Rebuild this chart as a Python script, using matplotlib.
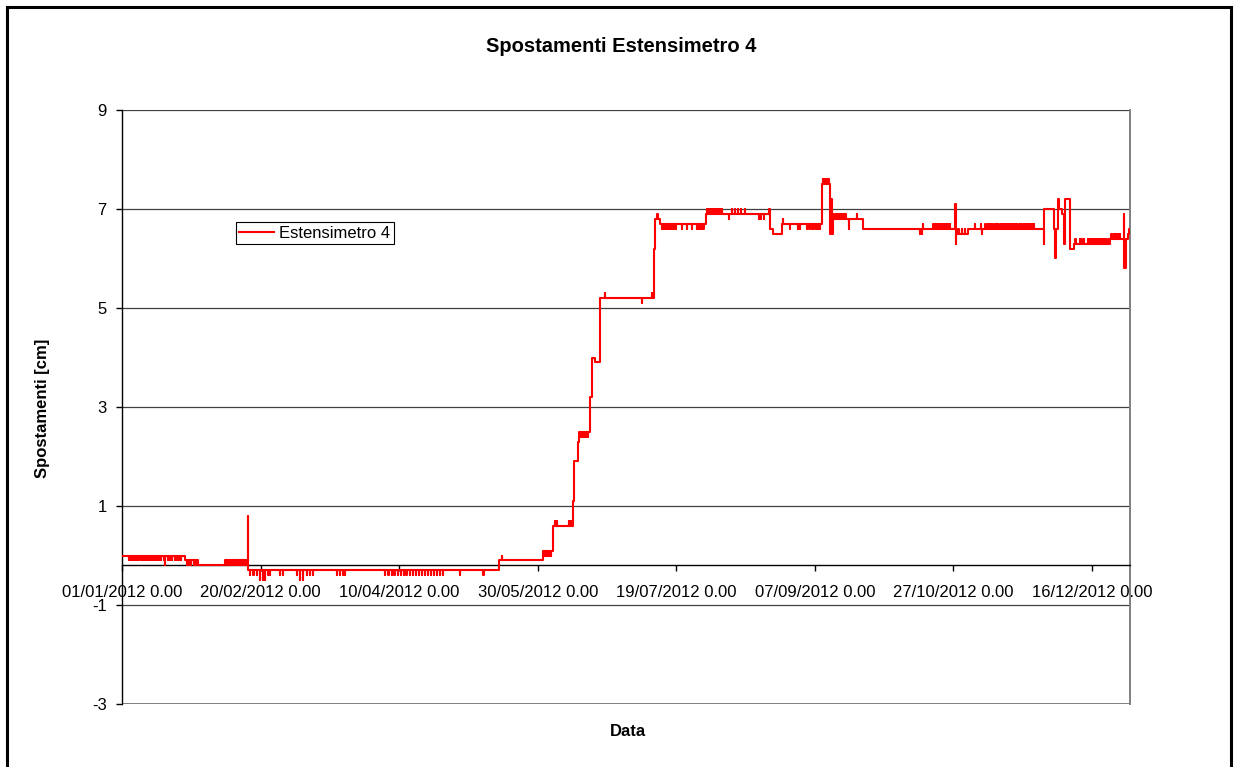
import numpy as np
import pandas as pd
import matplotlib
matplotlib.use('Agg')
import matplotlib.pyplot as plt
import matplotlib.dates as mdates
from matplotlib.patches import Rectangle
from matplotlib.ticker import FuncFormatter

plt.rcParams['font.family'] = ['Liberation Sans', 'Arial', 'DejaVu Sans']
plt.rcParams['font.size'] = 12

start = pd.Timestamp('2012-01-01')
end_day = 363.7

# base level of the reading (days from 01/01/2012, cm), held until next change
base_day = [0.0, 22.7, 27.4, 37.2, 45.5, 45.6, 136.0, 151.9, 155.5, 162.7, 163.1,
            164.5, 164.9, 168.9, 169.6, 170.8, 172.5, 192.0, 192.3, 194.1, 210.7,
            233.8, 234.8, 238.1, 252.6, 255.5, 255.8, 256.1, 256.4, 256.8, 267.4,
            300.6, 300.8, 301.0, 305.3, 332.5, 332.8, 336.3, 336.6, 336.9, 337.8,
            338.2, 339.0, 339.9, 340.3, 342.2, 343.5, 356.5, 361.4, 361.6, 362.4,
            362.8, 363.2]
base_val = [0.0, -0.1, -0.2, -0.1, 0.8, -0.3, -0.1, 0.1, 0.6, 1.1, 1.9,
            2.3, 2.5, 3.2, 4.0, 3.9, 5.2, 6.2, 6.8, 6.7, 6.9,
            6.6, 6.5, 6.7, 7.5, 6.5, 7.2, 6.5, 6.9, 6.8, 6.6,
            7.1, 6.3, 6.5, 6.6, 6.3, 7.0, 6.6, 6.0, 6.6, 7.2,
            7.0, 6.9, 6.3, 7.2, 6.2, 6.3, 6.4, 6.9, 5.8, 6.4,
            6.5, 6.6]

# single readings that jump off the base level
blips_m01 = [2.5, 3.3, 4.0, 4.8, 5.5, 6.1, 7.0, 7.6, 8.3, 9.0, 9.8, 10.4, 11.2, 12.0,
             12.6, 13.4, 14.1, 15.0, 16.5, 17.4, 18.1, 19.0, 19.8, 20.5, 21.3]
blips_m02 = [15.5, 23.3, 24.2, 25.0, 25.8, 26.7, 38.0, 38.8, 39.5, 40.3, 41.0, 41.8,
             42.5, 43.3, 44.0, 44.8]
blips_m04 = [46.2, 47.4, 48.6, 52.8, 53.4, 57.0, 58.0, 63.0, 66.6, 67.8, 69.0, 77.5,
             78.7, 79.9, 80.5, 94.9, 96.1, 97.3, 98.3, 99.5, 100.5, 101.6, 102.6,
             103.8, 104.9, 106.0, 107.0, 108.2, 109.3, 110.4, 111.5, 112.6, 113.7,
             114.8, 115.9, 122.0, 130.4]
blips_m05 = [49.8, 50.8, 51.7, 64.2, 65.4]
blips_00 = [137.1, 152.5, 153.2, 154.0, 154.7]
blips_07 = [156.2, 156.9, 161.3, 162.0]
blips_24 = [165.5, 166.2, 166.9, 167.5, 168.2]
blips_51 = [187.6]
blips_53 = [174.3, 191.3]
blips_64 = [344.0, 345.5, 346.2, 347.0, 348.5, 349.2, 350.0, 350.7, 351.4, 352.2,
            352.9, 353.6, 354.4, 355.1, 355.9]
blips_65 = [288.0, 288.5, 310.4, 357.0, 357.8, 358.6, 359.3, 360.0]
blips_66 = [194.7, 195.6, 196.3, 197.0, 197.7, 198.5, 199.2, 199.9, 201.9, 203.8,
            205.6, 207.4, 208.0, 208.6, 209.2, 209.8, 241.0, 243.9, 244.6, 247.2,
            248.0, 248.8, 249.5, 250.3, 251.0, 251.8, 262.3, 301.8, 303.0, 304.2]
blips_67 = [289.0, 292.8, 293.4, 294.0, 294.6, 295.2, 295.8, 296.4, 297.0, 297.6,
            298.2, 298.8, 307.8, 310.0, 311.5, 312.5, 313.2, 314.0, 314.8, 315.5,
            316.2, 317.0, 317.8, 318.5, 319.3, 320.0, 320.8, 321.5, 322.3, 323.0,
            323.8, 324.5, 325.3, 326.0, 326.8, 327.5, 328.3, 329.0]
blips_68 = [219.0, 229.8, 230.6, 231.7, 238.5]
blips_69 = [193.2, 257.5, 258.2, 258.9, 259.6, 260.3, 261.0, 265.2]
blips_70 = [211.0, 211.6, 212.2, 212.8, 213.4, 214.0, 214.6, 215.2, 215.8, 216.4,
            220.1, 221.2, 222.3, 223.4, 224.8, 233.6]
blips_76 = [252.9, 253.3, 253.7, 254.1, 254.5, 254.9]

tick_dates = ['2012-01-01', '2012-02-20', '2012-04-10', '2012-05-30',
              '2012-07-19', '2012-09-07', '2012-10-27', '2012-12-16']
y_ticks = [-3, -1, 1, 3, 5, 7, 9]

blip_groups = [(-0.1, blips_m01), (-0.2, blips_m02), (-0.4, blips_m04), (-0.5, blips_m05),
               (0.0, blips_00), (0.7, blips_07), (2.4, blips_24), (5.1, blips_51),
               (5.3, blips_53), (6.4, blips_64), (6.5, blips_65), (6.6, blips_66),
               (6.7, blips_67), (6.8, blips_68), (6.9, blips_69), (7.0, blips_70),
               (7.6, blips_76)]

base_day_arr = np.array(base_day)
base_val_arr = np.array(base_val)

def base_at(t):
    i = np.searchsorted(base_day_arr, t, side='right') - 1
    return base_val_arr[i]

w = 0.07
pts = list(zip(base_day, base_val))
for lvl, days in blip_groups:
    for d in days:
        pts.append((d, lvl))
        pts.append((d + w, base_at(d + w)))
pts.sort(key=lambda p: p[0])
pts.append((end_day, base_at(end_day)))
xd = np.array([p[0] for p in pts])
yv = np.array([p[1] for p in pts])
x0 = mdates.date2num(start.to_pydatetime())
xs = x0 + xd

fig = plt.figure(figsize=(12.38, 7.67), dpi=100, facecolor='white')
ax = fig.add_axes([122 / 1238, 1 - 704 / 767, 1008 / 1238, 594 / 767])

ax.plot(xs, yv, color='#ff0000', lw=1.5, drawstyle='steps-post',
        label='Estensimetro 4', zorder=3)

ax.set_xlim(x0, x0 + end_day)
ax.set_ylim(-3, 9)
ax.set_yticks(y_ticks)
ax.set_yticklabels([str(v) for v in y_ticks])
tnum = [mdates.date2num(pd.Timestamp(d).to_pydatetime()) for d in tick_dates]
ax.set_xticks(tnum)

def fmt(v, pos):
    dt = mdates.num2date(v)
    return dt.strftime('%d/%m/%Y') + f' {dt.hour}.{dt.minute:02d}'

ax.xaxis.set_major_formatter(FuncFormatter(fmt))

ax.grid(axis='y', color='#404040', lw=0.9, zorder=1)
ax.set_axisbelow(True)
ax.spines['bottom'].set_position(('data', -0.2))
ax.spines['bottom'].set_color('black')
ax.spines['bottom'].set_linewidth(1.0)
ax.spines['left'].set_color('black')
ax.spines['left'].set_linewidth(1.0)
ax.spines['top'].set_visible(False)
ax.spines['right'].set_color('#808080')
ax.spines['right'].set_linewidth(1.4)
ax.axhline(-3, color='#808080', lw=1.4, zorder=1)

ax.tick_params(axis='x', direction='out', length=4, width=1, pad=10, labelsize=12)
ax.tick_params(axis='y', direction='out', length=4, width=1, pad=7, labelsize=12)

leg = ax.legend(loc='upper left', bbox_to_anchor=(0.113, 0.811), frameon=True,
                fancybox=False, framealpha=1, edgecolor='black', borderpad=0.2,
                handlelength=2.1, handletextpad=0.3, borderaxespad=0, fontsize=12)
leg.get_frame().set_linewidth(0.8)

fig.text(0.5015, 1 - 47 / 767, 'Spostamenti Estensimetro 4', ha='center', va='center',
         fontsize=14.5, fontweight='bold')
fig.text(43 / 1238, 1 - 408 / 767, 'Spostamenti [cm]', ha='center', va='center',
         rotation=90, fontsize=12, fontweight='bold')
fig.text(628 / 1238, 1 - 732 / 767, 'Data', ha='center', va='center',
         fontsize=12, fontweight='bold')

fig.patches.append(Rectangle((7 / 1238, -0.05), 1224 / 1238, 1.05 - 7 / 767,
                             transform=fig.transFigure, fill=False,
                             edgecolor='black', lw=2.2, clip_on=False))

fig.savefig('out.png', dpi=100, facecolor='white')
